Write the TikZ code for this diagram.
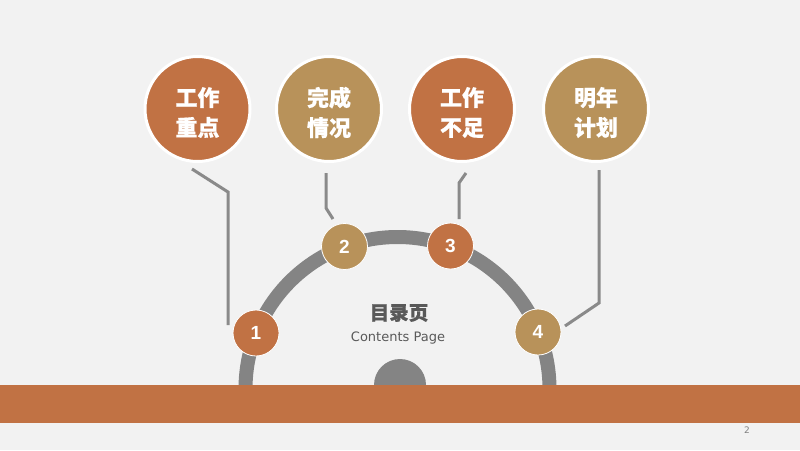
\documentclass[tikz,border=0pt]{standalone}
\usepackage{fontspec}
\newfontfamily\cjk{Noto Sans CJK SC}[FakeBold=0.6]
\newfontfamily\numfont{Liberation Sans}
\newfontfamily\latinfont{DejaVu Sans}
\definecolor{bgcol}{HTML}{F2F2F2}
\definecolor{rust}{HTML}{C17244}
\definecolor{tanc}{HTML}{B8925A}
\definecolor{arcgray}{HTML}{848484}
\definecolor{linegray}{HTML}{8A8A8A}
\definecolor{titlegray}{HTML}{595959}
\tikzset{
  bigcirc/.style={circle, draw=white, line width=3pt, minimum size=105pt, inner sep=0pt},
  bigtext/.style={text=white, align=center, inner sep=0pt, font=\cjk\bfseries\fontsize{22}{30}\selectfont},
  smallcirc/.style={circle, draw=white, line width=0.8pt, minimum size=46pt, inner sep=0pt,
    text=white, font=\numfont\bfseries\fontsize{19}{20}\selectfont},
  conn/.style={draw=linegray, line width=3pt},
}
\begin{document}
\begin{tikzpicture}[x=1pt,y=-1pt]
\fill[bgcol] (0,0) rectangle (800,450);
\useasboundingbox (0,0) rectangle (800,450);
% arc
\draw[arcgray, line width=14pt] (245.5,389) arc[start angle=180, end angle=360, radius=152];
% small semicircle
\fill[arcgray] (374,385) arc[start angle=180, end angle=360, radius=26] -- cycle;
% bar
\fill[rust] (0,385) rectangle (800,423);
% big circles
\node[bigcirc, fill=rust] (b1) at (197.5,109) {};
\node[bigcirc, fill=tanc] (b2) at (329,109) {};
\node[bigcirc, fill=rust] (b3) at (462,109) {};
\node[bigcirc, fill=tanc] (b4) at (596,109) {};
\node[bigtext] (t1) at ([yshift=-3.5pt]b1.center) {工作\\重点};
\node[bigtext] (t2) at ([yshift=-3.5pt]b2.center) {完成\\情况};
\node[bigtext] (t3) at ([yshift=-3.5pt]b3.center) {工作\\不足};
\node[bigtext] (t4) at ([yshift=-3.5pt]b4.center) {明年\\计划};
% small circles
\node[smallcirc, fill=rust] (s1) at (256,333) {1};
\node[smallcirc, fill=tanc] (s2) at (344.5,246.5) {2};
\node[smallcirc, fill=rust] (s3) at (450.5,246) {3};
\node[smallcirc, fill=tanc] (s4) at (538,332) {4};
% connector points
\coordinate (c1a) at (192,169);
\coordinate (c1b) at (228,192);
\coordinate (c1c) at (228,325);
\coordinate (c2a) at (326,173);
\coordinate (c2b) at (326,208);
\coordinate (c2c) at (333,219);
\coordinate (c3a) at (466,173);
\coordinate (c3b) at (459,183);
\coordinate (c3c) at (459,219);
\coordinate (c4a) at (599,170);
\coordinate (c4b) at (599,303);
\coordinate (c4c) at (565,326);
\draw[conn] (c1a) -- (c1b) -- (c1c);
\draw[conn] (c2a) -- (c2b) -- (c2c);
\draw[conn] (c3a) -- (c3b) -- (c3c);
\draw[conn] (c4a) -- (c4b) -- (c4c);
% titles
\node[text=titlegray, font=\cjk\bfseries\fontsize{19.5}{21}\selectfont] (title) at (399,313) {目录页};
\node[text=titlegray, font=\latinfont\fontsize{13}{15}\selectfont] (sub) at (398,338) {Contents Page};
\node[text=gray, font=\latinfont\fontsize{9}{10}\selectfont] (pg) at (747,430) {2};
\end{tikzpicture}
\end{document}
